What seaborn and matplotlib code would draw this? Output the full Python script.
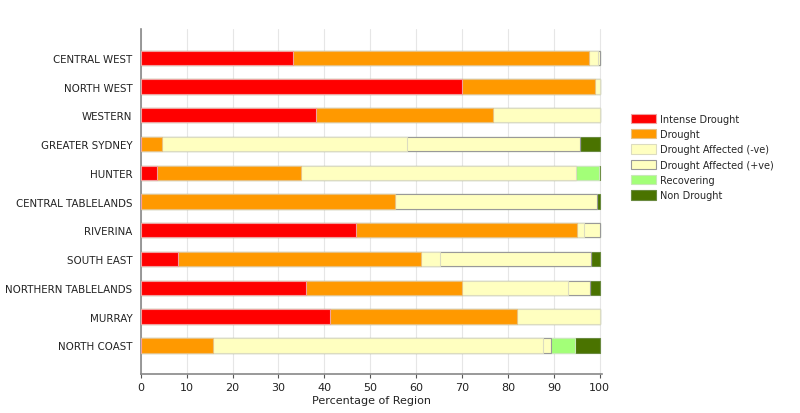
import numpy as np
import pandas as pd
import seaborn as sns
import matplotlib.pyplot as plt
from matplotlib.patches import Patch

regions = ['CENTRAL WEST', 'NORTH WEST', 'WESTERN', 'GREATER SYDNEY', 'HUNTER',
           'CENTRAL TABLELANDS', 'RIVERINA', 'SOUTH EAST', 'NORTHERN TABLELANDS',
           'MURRAY', 'NORTH COAST']

categories = ['Intense Drought', 'Drought', 'Drought Affected (-ve)',
              'Drought Affected (+ve)', 'Recovering', 'Non Drought']

# percentage of each region
intense = [33.2, 70.1, 38.2, 0.0, 3.6, 0.0, 46.9, 8.2, 36.1, 41.2, 0.0]
drought = [64.5, 28.9, 38.5, 4.6, 31.3, 55.5, 48.2, 52.8, 34.0, 40.7, 15.8]
affected_neg = [2.0, 1.0, 23.3, 53.5, 60.0, 0.0, 1.5, 4.2, 23.0, 18.1, 71.8]
affected_pos = [0.3, 0.0, 0.0, 37.6, 0.0, 43.9, 3.4, 32.9, 4.7, 0.0, 1.7]
recovering = [0.0, 0.0, 0.0, 0.0, 4.9, 0.0, 0.0, 0.0, 0.0, 0.0, 5.3]
non_drought = [0.0, 0.0, 0.0, 4.3, 0.2, 0.6, 0.0, 1.9, 2.2, 0.0, 5.4]

colors = ['#ff0000', '#ff9900', '#ffffc0', '#ffffc0', '#a3ff78', '#4a7300']
edges = ['#f0a0a0', '#e8c080', '#dcdcc0', '#999999', '#c8e8b8', '#6a8a40']

series = [intense, drought, affected_neg, affected_pos, recovering, non_drought]
df = pd.DataFrame(dict(zip(categories, series)), index=regions)
# make shares add to 100 and stack them
df = df.div(df.sum(axis=1), axis=0) * 100
cum = df.cumsum(axis=1)

sns.set_style('white')
plt.rcParams['font.family'] = ['DejaVu Sans']

fig = plt.figure(figsize=(8, 4.14), dpi=100)
ax = fig.add_axes([0.176, 0.094, 0.5765, 0.8335])

# draw back to front so each segment sits on the ones to its right
for cat, col, ec in reversed(list(zip(categories, colors, edges))):
    d = pd.DataFrame({'region': regions, 'value': cum[cat].values})
    sns.barplot(data=d, x='value', y='region', order=regions, color=col,
                width=0.5, edgecolor=ec, linewidth=0.8, saturation=1, ax=ax,
                zorder=3)

ax.set_xlim(0, 100.5)
ax.set_ylim(11, -1)
ax.set_xticks(np.arange(0, 101, 10))
ax.set_xlabel('Percentage of Region', fontsize=8, color='#222222', labelpad=2)
ax.set_ylabel('')
ax.grid(axis='x', color='#e6e6e6', linewidth=0.8, zorder=0)
ax.tick_params(axis='x', bottom=True, length=3, width=0.8, color='#555555',
               labelsize=8, labelcolor='#222222', pad=3)
ax.tick_params(axis='y', left=False, length=0, labelsize=7.4, labelcolor='#222222', pad=6)
for s in ['top', 'right']:
    ax.spines[s].set_visible(False)
for s in ['left', 'bottom']:
    ax.spines[s].set_color('#888888')
    ax.spines[s].set_linewidth(1.2)

handles = [Patch(facecolor=c, edgecolor=e, linewidth=0.8) for c, e in zip(colors, edges)]
fig.legend(handles, categories, loc='upper left', bbox_to_anchor=(0.783, 0.735),
           frameon=False, fontsize=7, handlelength=2.5, handleheight=1.1,
           labelspacing=0.55, handletextpad=0.5, borderpad=0)

fig.savefig('out.png', dpi=100)
